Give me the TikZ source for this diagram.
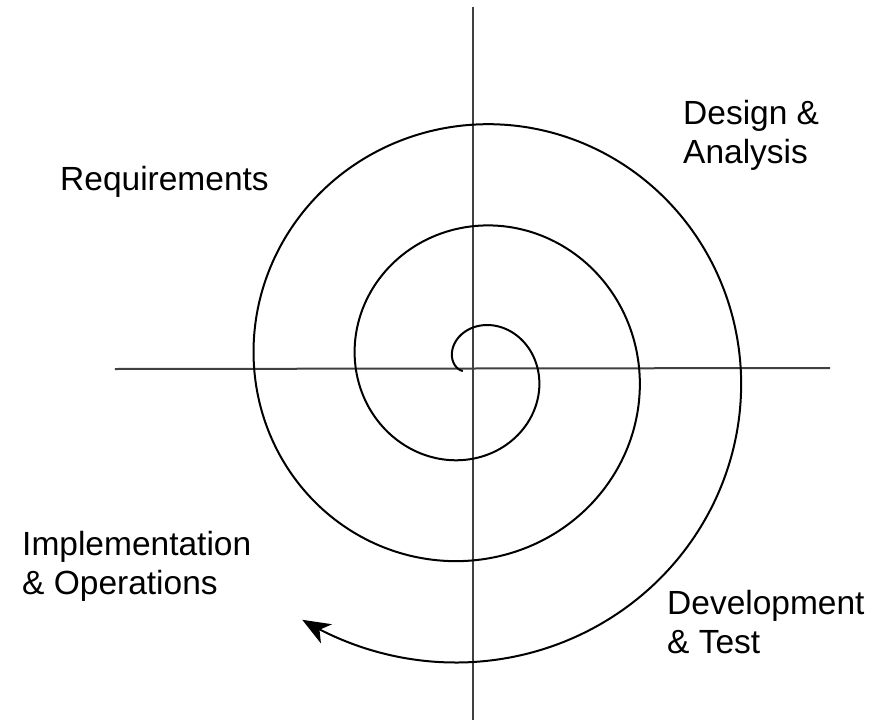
\documentclass[tikz,border=0pt]{standalone}
\usepackage{fontspec}
\setmainfont{Liberation Sans}
\usetikzlibrary{arrows.meta,positioning}

\begin{document}
\begin{tikzpicture}[x=1pt,y=1pt,>={Stealth[length=28pt,width=22pt,inset=8pt]}]
  \tikzstyle{phase}=[anchor=base west,inner sep=0pt,align=left,font=\fontsize{33.5}{39}\selectfont]
  \tikzstyle{axis}=[line width=2pt,draw=black!75]
  \tikzstyle{spiral}=[line width=2pt,draw=black]
  \useasboundingbox (-472,-353) rectangle (411,368);

  \coordinate (top) at (1,361);
  \coordinate (bottom) at (1,-352);
  \coordinate (left) at (-357,-1);
  \coordinate (right) at (358,0);
  \draw[axis] (top) -- (bottom);
  \draw[axis] (left) -- (right);

  \draw[spiral,<-] plot[domain=-844:198,samples=400,smooth,variable=\t]
    ({(65.5-0.2822*(\t))*cos(\t)},{(65.5-0.2822*(\t))*sin(\t)});

  \node[phase] (req) at (-412,178) {Requirements};
  \node[phase] (design) at (211,205) {Design \&\\Analysis};
  \node[phase] (impl) at (-450,-226) {Implementation\\\& Operations};
  \node[phase] (dev) at (195,-285) {Development\\\& Test};
\end{tikzpicture}
\end{document}
